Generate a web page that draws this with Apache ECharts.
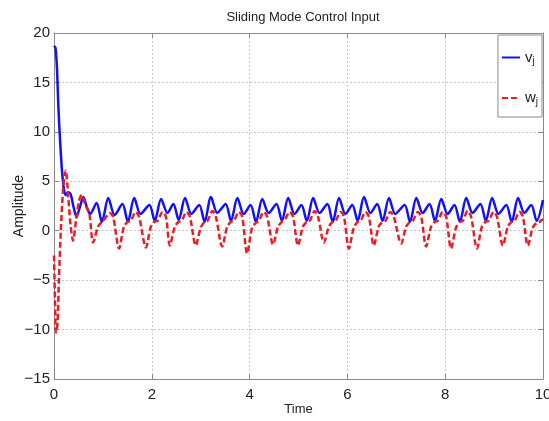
<!DOCTYPE html>
<html>
<head>
<meta charset="utf-8">
<script src="https://cdn.jsdelivr.net/npm/echarts@6/dist/echarts.min.js"></script>
<style>
  html, body { margin: 0; padding: 0; background: #ffffff; }
  #chart { width: 549px; height: 421px; }
</style>
</head>
<body>
<div id="chart"></div>
<script>
// Sliding mode control input: linear velocity v_j and angular velocity w_j over time
const titleText = 'Sliding Mode Control Input';
const xName = 'Time';
const yName = 'Amplitude';
const seriesNames = ['v', 'w'];

const xTicks = { min: 0, max: 10, interval: 2 };
const yTicks = { min: -15, max: 20, interval: 5 };

// v_j samples as [time, value]
const vPoints = [
  [0, 18.7], [0.03, 18.5], [0.06, 16.5], [0.09, 12.5], [0.12, 9.5], [0.16, 6.3],
  [0.20, 4.3], [0.24, 3.6], [0.29, 3.9], [0.34, 3.7], [0.40, 2.4], [0.46, 1.4],
  [0.53, 2.4], [0.60, 3.4], [0.67, 2.4], [0.74, 1.7],
  [0.87, 2.8], [0.98, 0.9], [1.11, 3.3], [1.24, 1.6],
  [1.40, 2.7], [1.51, 0.9], [1.64, 3.3], [1.77, 1.7],
  [1.95, 2.6], [2.06, 1.0], [2.19, 3.2], [2.32, 1.8],
  [2.44, 2.7], [2.55, 1.1], [2.68, 3.3], [2.81, 1.7],
  [2.97, 2.6], [3.08, 0.9], [3.21, 3.4], [3.34, 1.8],
  [3.51, 2.7], [3.62, 1.0], [3.75, 3.3], [3.88, 1.7],
  [4.02, 2.6], [4.13, 0.9], [4.26, 3.2], [4.39, 1.8],
  [4.55, 2.7], [4.66, 1.0], [4.79, 3.3], [4.92, 1.7],
  [5.06, 2.6], [5.17, 1.0], [5.30, 3.3], [5.43, 1.8],
  [5.59, 2.7], [5.70, 0.9], [5.83, 3.3], [5.96, 1.7],
  [6.10, 2.6], [6.21, 1.0], [6.34, 3.4], [6.47, 1.8],
  [6.61, 2.7], [6.72, 1.0], [6.85, 3.3], [6.98, 1.7],
  [7.17, 2.6], [7.28, 0.9], [7.41, 3.3], [7.54, 1.8],
  [7.68, 2.7], [7.79, 1.0], [7.92, 3.2], [8.05, 1.7],
  [8.19, 2.6], [8.30, 0.9], [8.43, 3.3], [8.56, 1.8],
  [8.72, 2.7], [8.83, 1.0], [8.96, 3.3], [9.09, 1.7],
  [9.25, 2.6], [9.36, 0.9], [9.49, 3.3], [9.62, 1.8],
  [9.76, 2.6], [9.87, 1.0], [10.00, 3.1]
];

// w_j samples as [time, value]
const wPoints = [
  [0, -2.5], [0.02, -7.0], [0.04, -10.3], [0.07, -9.5], [0.10, -5.0], [0.14, 0.0],
  [0.19, 4.5], [0.24, 6.1], [0.29, 3.5], [0.34, 0.5], [0.39, -1.0], [0.45, 1.0],
  [0.51, 3.0], [0.57, 3.6], [0.64, 2.6], [0.72, 1.8],
  [0.80, -1.2], [0.90, 0.4], [0.98, 0.9], [1.04, 1.2], [1.14, 1.8], [1.21, 1.4],
  [1.33, -1.8], [1.43, 0.4], [1.51, 0.9], [1.57, 1.0], [1.67, 1.9], [1.74, 1.4],
  [1.88, -1.7], [1.98, 0.4], [2.06, 0.9], [2.12, 1.0], [2.22, 1.9], [2.29, 1.4],
  [2.37, -1.5], [2.47, 0.4], [2.55, 0.9], [2.61, 1.0], [2.71, 1.9], [2.78, 1.4],
  [2.90, -1.5], [3.00, 0.3], [3.08, 0.9], [3.14, 1.0], [3.24, 2.0], [3.31, 1.4],
  [3.44, -1.6], [3.54, 0.4], [3.62, 0.9], [3.68, 1.0], [3.78, 1.9], [3.85, 1.4],
  [3.95, -2.3], [4.05, 0.3], [4.13, 0.8], [4.19, 1.0], [4.29, 1.9], [4.36, 1.4],
  [4.48, -1.4], [4.58, 0.4], [4.66, 0.9], [4.72, 1.1], [4.82, 1.9], [4.89, 1.4],
  [4.99, -1.5], [5.09, 0.4], [5.17, 0.9], [5.23, 1.0], [5.33, 2.0], [5.40, 1.4],
  [5.52, -1.2], [5.62, 0.4], [5.70, 0.9], [5.76, 1.0], [5.86, 1.9], [5.93, 1.4],
  [6.03, -1.8], [6.13, 0.3], [6.21, 0.9], [6.27, 1.0], [6.37, 1.9], [6.44, 1.4],
  [6.54, -1.5], [6.64, 0.4], [6.72, 0.9], [6.78, 1.0], [6.88, 1.9], [6.95, 1.4],
  [7.10, -1.3], [7.20, 0.4], [7.28, 0.9], [7.34, 1.0], [7.44, 1.9], [7.51, 1.4],
  [7.61, -1.6], [7.71, 0.4], [7.79, 0.9], [7.85, 1.0], [7.95, 1.9], [8.02, 1.4],
  [8.12, -1.8], [8.22, 0.3], [8.30, 0.9], [8.36, 1.0], [8.46, 2.0], [8.53, 1.4],
  [8.65, -1.8], [8.75, 0.4], [8.83, 0.9], [8.89, 1.0], [8.99, 1.9], [9.06, 1.4],
  [9.18, -1.5], [9.28, 0.4], [9.36, 0.9], [9.42, 1.0], [9.52, 1.9], [9.59, 1.4],
  [9.69, -1.5], [9.79, 0.3], [9.87, 0.8], [9.93, 0.9], [10.00, 1.2]
];

const FONT = "'Liberation Sans Narrow', 'Liberation Sans', Arial, sans-serif";
const frameColor = '#8a8a8a';
const gridColor = '#c8c8c8';
const blue = '#1010ff';
const red = '#ec1c24';

const chart = echarts.init(document.getElementById('chart'), null, { renderer: 'canvas' });

// Plain axis used only to close the box on the top and right sides
function frameAxis(pos, ticks) {
  return {
    type: 'value',
    position: pos,
    min: ticks.min, max: ticks.max, interval: ticks.interval,
    axisLine: { show: true, onZero: false, lineStyle: { color: frameColor, width: 1 } },
    axisTick: { show: true, inside: true, length: 5, lineStyle: { color: frameColor } },
    axisLabel: { show: false },
    splitLine: { show: false }
  };
}

const option = {
  backgroundColor: '#ffffff',
  animation: false,
  title: {
    text: titleText,
    left: 298, top: 6, textAlign: 'center',
    textStyle: { fontFamily: FONT, fontSize: 13, fontWeight: 'normal', color: '#222' }
  },
  grid: { left: 54, right: 6, top: 33, bottom: 42, containLabel: false, outerBoundsMode: 'none' },
  legend: {
    orient: 'vertical',
    right: 7, top: 35,
    itemWidth: 18, itemHeight: 14,
    itemGap: 24,
    padding: [15, 4, 10, 3],
    borderColor: frameColor, borderWidth: 1,
    backgroundColor: '#ffffff',
    itemStyle: { opacity: 0 },
    formatter: function (name) { return '{n|' + name + '}{s|j}'; },
    textStyle: {
      fontFamily: FONT, color: '#222',
      rich: {
        n: { fontSize: 15, fontFamily: FONT, color: '#222' },
        s: { fontSize: 10, fontFamily: FONT, color: '#222', verticalAlign: 'bottom', padding: [8, 0, 0, 0] }
      }
    },
    data: seriesNames
  },
  xAxis: [
    {
      type: 'value',
      min: xTicks.min, max: xTicks.max, interval: xTicks.interval,
      name: xName, nameLocation: 'middle', nameGap: 24, nameMoveOverlap: false,
      nameTextStyle: { fontFamily: FONT, fontSize: 13, color: '#222' },
      axisLine: { show: true, onZero: false, lineStyle: { color: frameColor, width: 1 } },
      axisTick: { show: true, inside: true, length: 5, lineStyle: { color: frameColor } },
      axisLabel: { fontFamily: FONT, fontSize: 15, color: '#222', margin: 8 },
      splitLine: { show: true, lineStyle: { color: gridColor, type: [2, 2], width: 1 } }
    },
    frameAxis('top', xTicks)
  ],
  yAxis: [
    {
      type: 'value',
      min: yTicks.min, max: yTicks.max, interval: yTicks.interval,
      name: yName, nameLocation: 'middle', nameGap: 28, nameRotate: 90, nameMoveOverlap: false,
      nameTextStyle: { fontFamily: FONT, fontSize: 14, color: '#222' },
      axisLine: { show: true, onZero: false, lineStyle: { color: frameColor, width: 1 } },
      axisTick: { show: true, inside: true, length: 5, lineStyle: { color: frameColor } },
      axisLabel: {
        fontFamily: FONT, fontSize: 15, color: '#222', margin: 4,
        formatter: function (v) { return v < 0 ? '\u2212' + Math.abs(v) : String(v); }
      },
      splitLine: { show: true, lineStyle: { color: gridColor, type: [2, 2], width: 1 } }
    },
    frameAxis('right', yTicks)
  ],
  series: [
    {
      name: seriesNames[0], type: 'line', xAxisIndex: 0, yAxisIndex: 0,
      data: vPoints, showSymbol: false, symbol: 'none', smooth: 0.3,
      lineStyle: { color: blue, width: 2.5 },
      itemStyle: { color: blue },
      z: 2
    },
    {
      name: seriesNames[1], type: 'line', xAxisIndex: 0, yAxisIndex: 0,
      data: wPoints, showSymbol: false, symbol: 'none', smooth: 0.3,
      lineStyle: { color: red, width: 2.5, type: [6, 3] },
      itemStyle: { color: red },
      z: 3
    }
  ]
};

chart.setOption(option);
</script>
</body>
</html>
